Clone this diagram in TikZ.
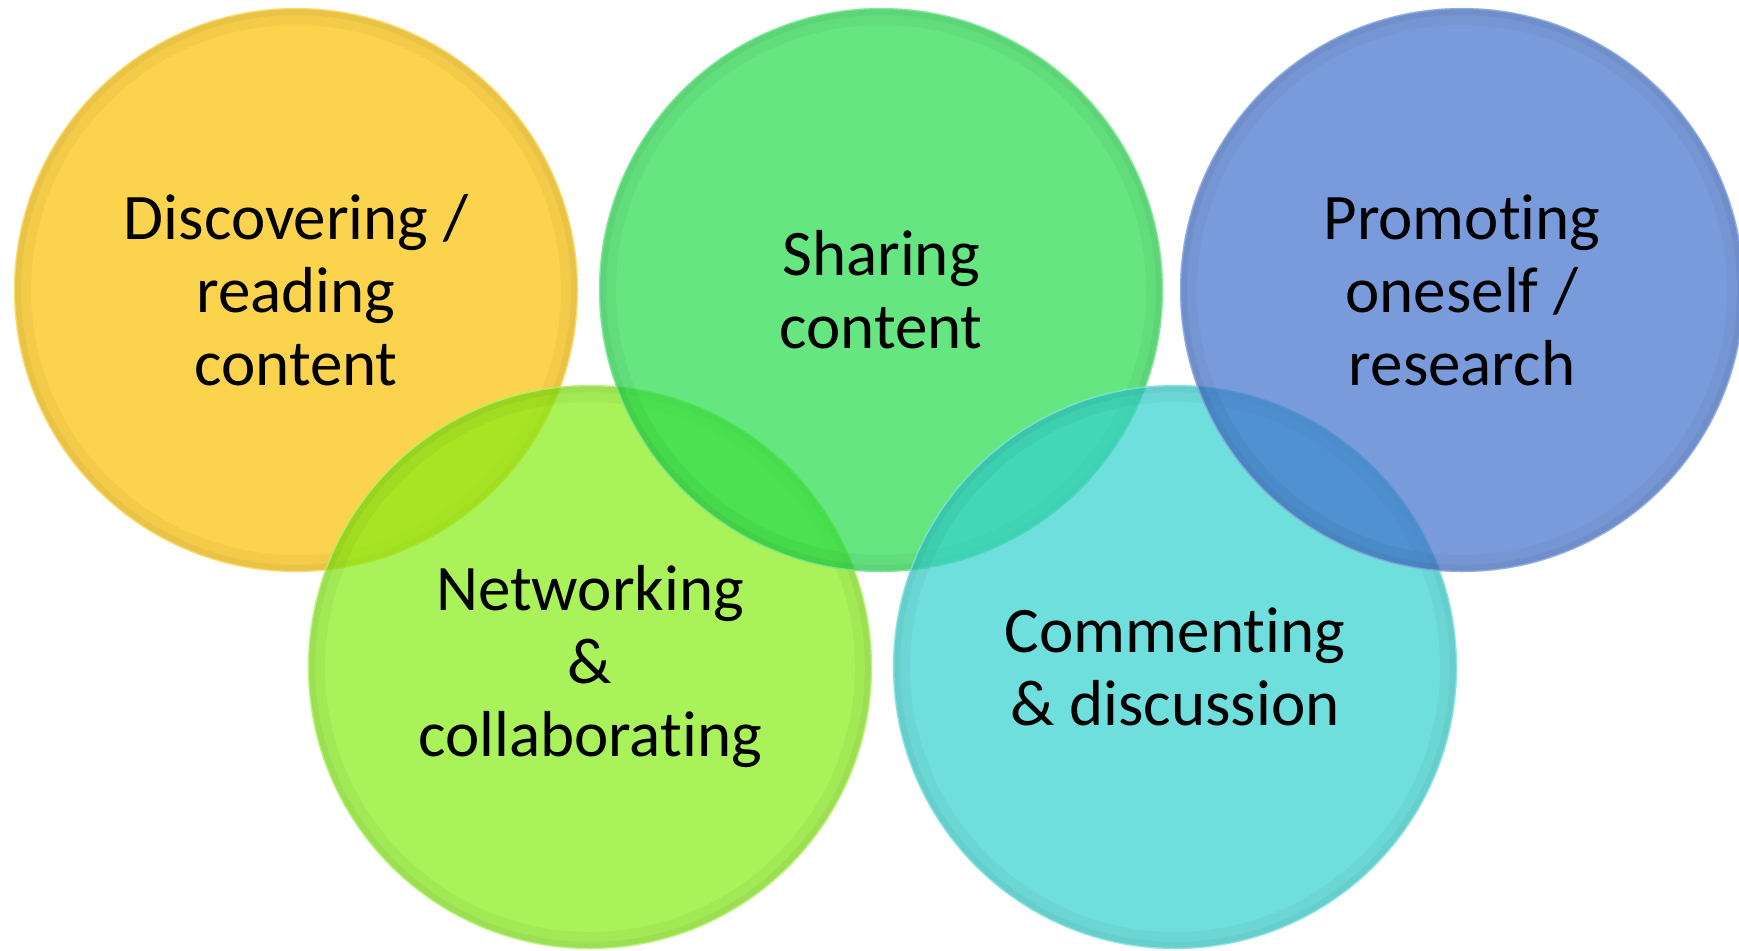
\documentclass[tikz,border=0pt]{standalone}
\usepackage{fontspec}
\setmainfont{Carlito}[Ligatures=NoCommon]

\definecolor{discgold}{RGB}{251,192,0}
\definecolor{netlime}{RGB}{132,236,19}
\definecolor{sharegreen}{RGB}{36,219,75}
\definecolor{commcyan}{RGB}{50,209,206}
\definecolor{promblue}{RGB}{66,112,204}

\tikzset{
  bubble/.style={circle, minimum size=564pt, inner sep=0pt, fill=#1,
    fill opacity=0.7, text opacity=1, align=center,
    font=\fontsize{65}{73}\selectfont},
}

\begin{document}
\begin{tikzpicture}[x=1pt,y=-1pt]
\useasboundingbox (0,0) rectangle (1739,950);

% Five overlapping activity circles, drawn left to right
\foreach \x/\y/\col/\id/\txt in {
    296/290/discgold/disc/{Discovering /\\reading\\content},
    590/667/netlime/netw/{Networking\\\&\\collaborating},
    881/290/sharegreen/shar/{Sharing\\content},
    1175/667/commcyan/comm/{Commenting\\\& discussion},
    1462/290/promblue/prom/{Promoting\\oneself /\\research}} {
    \node[bubble=\col] (\id) at (\x,\y) {\txt};
    % soft bevel along the rim
    \draw[black, opacity=0.035, line width=16pt] (\id.center) circle (273pt);
    \draw[black, opacity=0.04, line width=6pt] (\id.center) circle (278pt);
    \draw[\col!50!white, opacity=0.6, line width=1.5pt] (\id.center) circle (281.5pt);
}

\end{tikzpicture}
\end{document}
